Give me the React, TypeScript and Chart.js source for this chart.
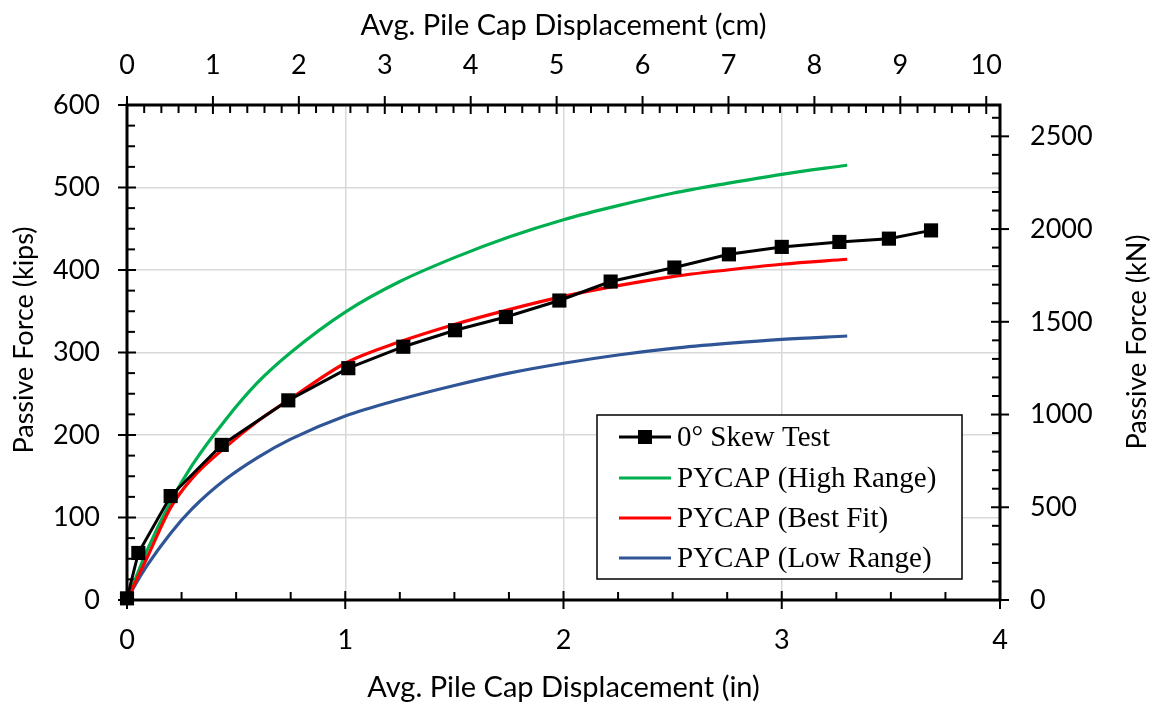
import React, { useEffect, useRef } from 'react';
import { Chart, registerables } from 'chart.js';

Chart.register(...registerables);

// Measured test data (in, kips)
const testDisp = [0, 0.052, 0.2, 0.434, 0.739, 1.014, 1.266, 1.503, 1.736, 1.981, 2.216, 2.508, 2.758, 3.0, 3.264, 3.491, 3.684];
const testForce = [2, 57, 126, 188, 242, 281, 307, 327, 343, 363, 386, 403, 419, 428, 434, 438, 448];

// PYCAP curves (in, kips)
const curveDisp = [0, 0.03, 0.09, 0.2, 0.3, 0.45, 0.6, 0.75, 1.0, 1.25, 1.5, 1.75, 2.0, 2.25, 2.5, 2.75, 3.0, 3.3];
const highForce = [0, 20, 59, 119, 164, 218, 264, 300, 349, 386, 415, 440, 461, 478, 493, 505, 516, 527];
const bestForce = [0, 17, 50, 112, 148, 185, 217, 244, 287, 313, 334, 352, 368, 381, 392, 400, 407, 413];
const lowForce = [0, 15, 41, 81, 111, 146, 173, 195, 223, 243, 260, 275, 287, 297, 305, 311, 316, 320];

// Tick labels
const inTicks = [0, 1, 2, 3, 4];
const cmTicks = [0, 1, 2, 3, 4, 5, 6, 7, 8, 9, 10];
const kipTicks = [0, 100, 200, 300, 400, 500, 600];
const kNTicks = [0, 500, 1000, 1500, 2000, 2500];

const seriesNames = ['0° Skew Test', 'PYCAP (High Range)', 'PYCAP (Best Fit)', 'PYCAP (Low Range)'];
const seriesColors = ['#000000', '#00b050', '#ff0000', '#2f5597'];

const IN_TO_CM = 2.54;
const KIP_TO_KN = 4.44822;
const X_MAX = 4;
const Y_MAX = 600;

const FAMILY = 'Lato, "Open Sans", sans-serif';
const tickFont = { family: FAMILY, size: 27 };
const hTitleFont = { family: FAMILY, size: 29 };
const vTitleFont = `27px ${FAMILY}`;
const legendFont = '29px "Liberation Serif", "Times New Roman", serif';

const toPts = (xs: number[], ys: number[]) => xs.map((x, i) => ({ x, y: ys[i] }));
const fixedTicks = (vals: number[]) => (s: any) => {
  s.ticks = vals.map((v) => ({ value: v }));
};

const axesPlugin = {
  id: 'customAxes',
  beforeDatasetsDraw(chart: any) {
    const { ctx, chartArea: a, scales } = chart;
    const { left, right, top, bottom } = a;
    ctx.save();
    ctx.strokeStyle = '#000';
    ctx.lineWidth = 2;
    const major = 9;
    const minor = 8;
    const line = (x1: number, y1: number, x2: number, y2: number) => {
      ctx.beginPath();
      ctx.moveTo(x1, y1);
      ctx.lineTo(x2, y2);
      ctx.stroke();
    };
    // bottom (in): minor every 0.25
    for (let i = 0; i <= 16; i++) {
      const px = scales.x.getPixelForValue(i * 0.25);
      if (i % 4 === 0) line(px, bottom - major, px, bottom + major);
      else line(px, bottom - minor, px, bottom);
    }
    // top (cm): minor every 0.2
    for (let i = 0; i <= 50; i++) {
      const px = scales.x2.getPixelForValue(i * 0.2);
      if (i % 5 === 0) line(px, top - major, px, top + major);
      else line(px, top, px, top + minor);
    }
    // left (kips): minor every 25
    for (let v = 0; v <= Y_MAX; v += 25) {
      const py = scales.y.getPixelForValue(v);
      if (v % 100 === 0) line(left - major, py, left + major, py);
      else line(left, py, left + minor, py);
    }
    // right (kN): minor every 100
    for (let v = 0; v <= 2600; v += 100) {
      const py = scales.y2.getPixelForValue(v);
      if (v % 500 === 0) line(right - major, py, right + major, py);
      else line(right - minor, py, right, py);
    }
    ctx.lineWidth = 3;
    ctx.lineCap = 'square';
    ctx.beginPath();
    ctx.rect(left, top, right - left, bottom - top);
    ctx.stroke();
    ctx.restore();
  },
  afterDraw(chart: any) {
    const { ctx } = chart;
    ctx.save();
    // vertical axis titles (both read bottom-to-top)
    ctx.fillStyle = '#000';
    ctx.font = vTitleFont;
    ctx.textAlign = 'center';
    ctx.textBaseline = 'middle';
    const vTitle = (text: string, x: number, y: number) => {
      ctx.save();
      ctx.translate(x, y);
      ctx.rotate(-Math.PI / 2);
      ctx.fillText(text, 0, 0);
      ctx.restore();
    };
    vTitle('Passive Force (kips)', 24, 340);
    vTitle('Passive Force (kN)', 1137, 342);

    // legend
    const bx = 597, by = 415, bw = 365, bh = 164;
    ctx.fillStyle = '#fff';
    ctx.fillRect(bx, by, bw, bh);
    ctx.strokeStyle = '#000';
    ctx.lineWidth = 1.5;
    ctx.strokeRect(bx, by, bw, bh);
    ctx.font = legendFont;
    ctx.textBaseline = 'middle';
    ctx.textAlign = 'left';
    const rowY = [437, 478, 518, 558];
    seriesNames.forEach((name, i) => {
      const y = rowY[i];
      ctx.strokeStyle = seriesColors[i];
      ctx.lineWidth = 3;
      ctx.beginPath();
      ctx.moveTo(619, y);
      ctx.lineTo(671, y);
      ctx.stroke();
      if (i === 0) {
        ctx.fillStyle = '#000';
        ctx.fillRect(645 - 7, y - 7, 14, 14);
      }
      ctx.fillStyle = '#000';
      ctx.fillText(name, 677, y + 1);
    });
    ctx.restore();
  },
};

export default function App() {
  const ref = useRef<HTMLCanvasElement>(null);
  useEffect(() => {
    const canvas = ref.current;
    if (!canvas) return;
    const chart = new Chart(canvas, {
      type: 'line',
      data: {
        datasets: [
          {
            label: seriesNames[0],
            data: toPts(testDisp, testForce),
            borderColor: seriesColors[0],
            backgroundColor: seriesColors[0],
            borderWidth: 3,
            pointStyle: 'rect',
            pointRadius: 10,
            pointBorderWidth: 0,
            tension: 0,
            clip: false as any,
            order: 0,
          },
          {
            label: seriesNames[1],
            data: toPts(curveDisp, highForce),
            borderColor: seriesColors[1],
            borderWidth: 3.2,
            pointRadius: 0,
            cubicInterpolationMode: 'monotone',
            order: 3,
          },
          {
            label: seriesNames[2],
            data: toPts(curveDisp, bestForce),
            borderColor: seriesColors[2],
            borderWidth: 3.2,
            pointRadius: 0,
            cubicInterpolationMode: 'monotone',
            order: 1,
          },
          {
            label: seriesNames[3],
            data: toPts(curveDisp, lowForce),
            borderColor: seriesColors[3],
            borderWidth: 3.2,
            pointRadius: 0,
            cubicInterpolationMode: 'monotone',
            order: 2,
          },
        ],
      },
      options: {
        animation: false,
        responsive: true,
        maintainAspectRatio: false,
        layout: { padding: 0 },
        plugins: { legend: { display: false }, tooltip: { enabled: false } },
        scales: {
          x: {
            type: 'linear',
            position: 'bottom',
            min: 0,
            max: X_MAX,
            afterBuildTicks: fixedTicks(inTicks),
            ticks: { padding: 24, color: '#000', font: tickFont, maxRotation: 0, autoSkip: false },
            grid: { color: '#d9d9d9', lineWidth: 1.5, drawTicks: false },
            border: { display: false },
            title: { display: true, text: 'Avg. Pile Cap Displacement (in)', color: '#000', font: hTitleFont, padding: { top: 0, bottom: 1 } },
            afterFit: (s: any) => { s.height = 106; },
          },
          x2: {
            type: 'linear',
            position: 'top',
            min: 0,
            max: X_MAX * IN_TO_CM,
            afterBuildTicks: fixedTicks(cmTicks),
            ticks: { padding: 24, color: '#000', font: tickFont, maxRotation: 0, autoSkip: false },
            grid: { display: false, drawTicks: false },
            border: { display: false },
            title: { display: true, text: 'Avg. Pile Cap Displacement (cm)', color: '#000', font: hTitleFont, padding: { top: 8, bottom: 0 } },
            afterFit: (s: any) => { s.height = 105; },
          },
          y: {
            type: 'linear',
            position: 'left',
            min: 0,
            max: Y_MAX,
            afterBuildTicks: fixedTicks(kipTicks),
            ticks: { padding: 27, color: '#000', font: tickFont, autoSkip: false },
            grid: { color: '#d9d9d9', lineWidth: 1.5, drawTicks: false },
            border: { display: false },
            title: { display: false },
            afterFit: (s: any) => { s.width = 127; },
          },
          y2: {
            type: 'linear',
            position: 'right',
            min: 0,
            max: Y_MAX * KIP_TO_KN,
            afterBuildTicks: fixedTicks(kNTicks),
            ticks: { padding: 30, color: '#000', font: tickFont, autoSkip: false, callback: (v: any) => String(v) },
            grid: { display: false, drawTicks: false },
            border: { display: false },
            title: { display: false },
            afterFit: (s: any) => { s.width = 153; },
          },
        },
      } as any,
      plugins: [axesPlugin],
    });
    return () => chart.destroy();
  }, []);
  return (
    <div style={{ position: 'absolute', left: 0, top: 0, width: 1153, height: 706 }}>
      <canvas ref={ref} />
    </div>
  );
}
